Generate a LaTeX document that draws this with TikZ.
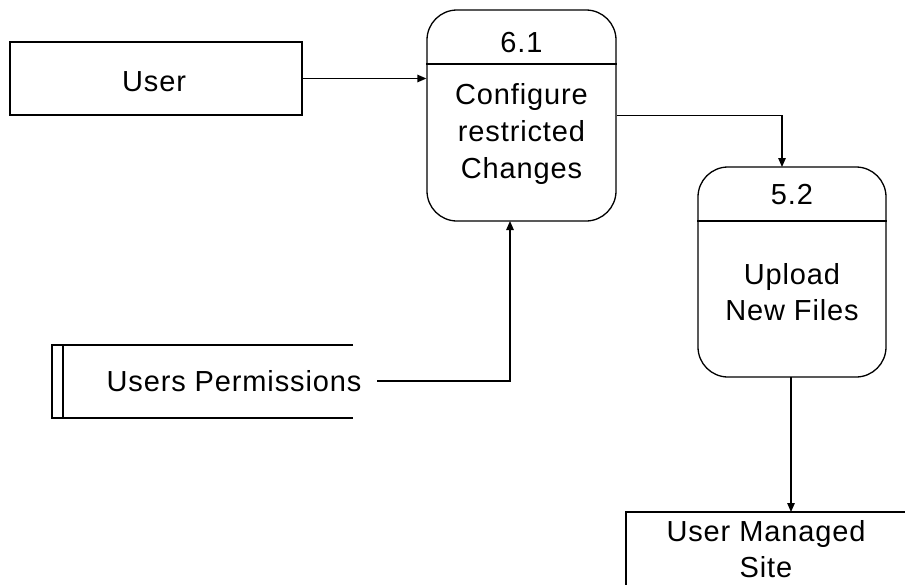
\documentclass[tikz,border=0pt]{standalone}
\usepackage{fontspec}
\setmainfont{Liberation Sans}[LetterSpace=3]
\usetikzlibrary{arrows.meta}
\tikzset{
  lw/.style={line width=1.3pt},
  flow/.style={lw, -{Triangle[length=9pt,width=7.5pt]}},
  proc/.style={lw, draw, rectangle, rounded corners=30pt, inner sep=0pt},
  entity/.style={lw, draw, rectangle, inner sep=0pt},
  lbl/.style={font=\fontsize{29}{36.7}\selectfont, align=center, inner sep=0pt}
}
\begin{document}
\begin{tikzpicture}[x=1pt,y=-1pt]
\useasboundingbox (0,0) rectangle (905,584);

% external entity
\node[entity, minimum width=292pt, minimum height=73pt] (user) at (156,78.5) {};
\node[lbl] (usertxt) at (154,82) {User};

% process 6.1
\node[proc, minimum width=189pt, minimum height=211pt] (p61) at (521.5,115.5) {};
\draw[lw] (p61.west |- 0,64) -- (p61.east |- 0,64);
\node[lbl] (p61id) at (521.5,43) {6.1};
\node[lbl] (p61txt) at (521.5,134) {Configure\\restricted\\Changes};

% process 5.2
\node[proc, minimum width=188pt, minimum height=210pt] (p52) at (792,272) {};
\draw[lw] (p52.west |- 0,221) -- (p52.east |- 0,221);
\node[lbl] (p52id) at (792,195) {5.2};
\node[lbl] (p52txt) at (792,292) {Upload\\New Files};

% data store
\draw[lw] (353,345) -- (52,345) -- (52,418) -- (353,418);
\draw[lw] (63,345) -- (63,418);
\node[lbl] (perm) at (234,381) {Users Permissions};

% external entity, cut by the page edge
\draw[lw] (910,512) -- (626,512) -- (626,590);
\node[lbl] (site) at (766,549) {User Managed\\Site};

% connectors
\coordinate (permout) at (377,381);
\coordinate (p61in) at (510,221);
\coordinate (p52in) at (782,167);
\coordinate (p52out) at (791,377);
\coordinate (sitein) at (791,512);
\draw[flow] (user.east) -- (p61.west |- user.east);
\draw[flow] (p61.east) -| (p52in);
\draw[flow] (permout) -| (p61in);
\draw[flow] (p52out) -- (sitein);
\end{tikzpicture}
\end{document}
